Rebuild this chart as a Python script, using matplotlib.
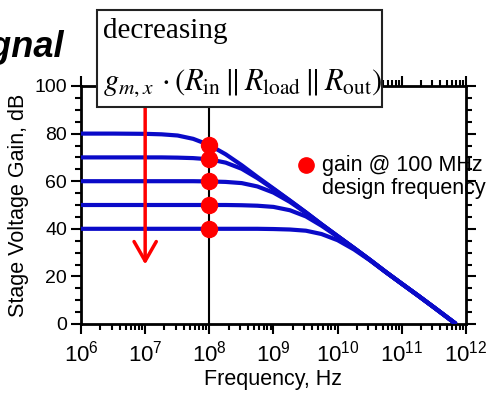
import numpy as np
import matplotlib.pyplot as plt
from matplotlib.patches import Rectangle
from matplotlib.ticker import FixedLocator, FixedFormatter, MultipleLocator, LogLocator, NullFormatter

plt.rcParams['font.family'] = ['Liberation Sans', 'DejaVu Sans']
plt.rcParams['mathtext.fontset'] = 'custom'
plt.rcParams['mathtext.rm'] = 'Liberation Sans'
plt.rcParams['mathtext.it'] = 'Liberation Sans:italic'

# frequency grid (Hz)
freq_hz = [1e6, 3.2e6, 1e7, 1.8e7, 3.2e7, 5.6e7, 1e8, 1.8e8, 3.2e8, 5.6e8, 1e9,
           1.8e9, 3.2e9, 5.6e9, 1e10, 1.8e10, 3.2e10, 5.6e10, 1e11, 1.8e11, 3.2e11, 7e11]

# stage gain curves, dB
gain_80 = [80.0, 80.0, 79.9, 79.7, 79.2, 77.8, 75.2, 71.3, 66.7, 61.8, 56.9,
           51.9, 46.9, 41.9, 36.9, 31.9, 26.9, 21.9, 16.9, 11.9, 6.9, 0.0]
gain_70 = [70.0, 70.0, 70.0, 70.0, 69.9, 69.7, 69.2, 67.8, 65.2, 61.3, 56.7,
           51.8, 46.9, 41.9, 36.9, 31.9, 26.9, 21.9, 16.9, 11.9, 6.9, 0.0]
gain_60 = [60.0, 60.0, 60.0, 60.0, 60.0, 60.0, 59.9, 59.7, 59.2, 57.8, 55.2,
           51.3, 46.7, 41.8, 36.9, 31.9, 26.9, 21.9, 16.9, 11.9, 6.9, 0.0]
gain_50 = [50.0, 50.0, 50.0, 50.0, 50.0, 50.0, 50.0, 50.0, 49.9, 49.7, 49.2,
           47.8, 45.2, 41.3, 36.7, 31.8, 26.9, 21.9, 16.9, 11.9, 6.9, 0.0]
gain_40 = [40.0, 40.0, 40.0, 40.0, 40.0, 40.0, 40.0, 40.0, 40.0, 40.0, 39.9,
           39.7, 39.2, 37.8, 35.2, 31.3, 26.7, 21.8, 16.9, 11.9, 6.9, 0.0]
curves = [gain_80, gain_70, gain_60, gain_50, gain_40]

# gain at 100 MHz design frequency
design_f = 1e8
design_gain = [75.2, 69.2, 59.9, 50.0, 40.0]

x_ticks = [1e6, 1e7, 1e8, 1e9, 1e10, 1e11, 1e12]
x_labels = [r'$\mathregular{10^{6}}$', r'$\mathregular{10^{7}}$', r'$\mathregular{10^{8}}$',
            r'$\mathregular{10^{9}}$', r'$\mathregular{10^{10}}$', r'$\mathregular{10^{11}}$',
            r'$\mathregular{10^{12}}$']
y_ticks = [0, 20, 40, 60, 80, 100]

W, H = 489, 395
fig = plt.figure(figsize=(W / 100, H / 100), dpi=100)
ax = fig.add_axes([81 / W, 1 - 324 / H, 385 / W, 238 / H])

blue = '#0a0ac8'
for g in curves:
    ax.plot(freq_hz, g, color=blue, lw=3, solid_capstyle='butt', zorder=3)

ax.axvline(design_f, color='black', lw=1.5, zorder=2)
ax.plot([design_f] * len(design_gain), design_gain, 'o', color='red', ms=11.5, zorder=4)

# decreasing-gain arrow
ax.annotate('', xy=(1e7, 25), xytext=(1e7, 100),
            arrowprops=dict(arrowstyle='->,head_length=1.4,head_width=0.8', color='red',
                            lw=2.5, shrinkA=0, shrinkB=0), zorder=3)

ax.set_xscale('log')
ax.set_xlim(1e6, 1e12)
ax.set_ylim(0, 100)
ax.xaxis.set_major_locator(FixedLocator(x_ticks))
ax.xaxis.set_major_formatter(FixedFormatter(x_labels))
ax.xaxis.set_minor_locator(LogLocator(base=10, subs=np.arange(2, 10), numticks=20))
ax.xaxis.set_minor_formatter(NullFormatter())
ax.yaxis.set_major_locator(FixedLocator(y_ticks))
ax.yaxis.set_minor_locator(MultipleLocator(5))

for s in ax.spines.values():
    s.set_linewidth(2)
ax.tick_params(which='both', direction='out', top=True, right=True, width=1.5)
ax.tick_params(which='major', length=7)
ax.tick_params(which='minor', length=4)
ax.tick_params(axis='x', labelsize=16, pad=5)
ax.tick_params(axis='y', labelsize=14, pad=3)

ax.set_xlabel('Frequency, Hz', fontsize=15.5, labelpad=2)
ax.set_ylabel('Stage Voltage Gain, dB', fontsize=15.5, labelpad=4)

# legend-like annotation
ax.plot([0.584], [0.668], 'o', color='red', ms=11, transform=ax.transAxes, clip_on=False)
ax.text(0.626, 0.710, 'gain @ 100 MHz\ndesign frequency', transform=ax.transAxes,
        fontsize=15.5, va='top', ha='left', linespacing=1.15)

# cut-off slide title
fig.text(64 / W, 1 - 57 / H, 'Signal', fontsize=26, fontweight='bold', fontstyle='italic',
         ha='right', va='baseline')

# formula box
box = Rectangle((97 / W, 1 - 107 / H), 285 / W, 97 / H, transform=fig.transFigure,
                facecolor='white', edgecolor='#222222', lw=1.5, zorder=5)
fig.add_artist(box)
fig.text(103 / W, 1 - 38 / H, 'decreasing', fontsize=21, family='Liberation Serif',
         ha='left', va='baseline', zorder=6)
fig.text(103 / W, 1 - 90 / H,
         r'$\mathit{g}_{\mathit{m,x}}\,\cdot(\mathit{R}_{\mathrm{in}}\,\|\,'
         r'\mathit{R}_{\mathrm{load}}\,\|\,\mathit{R}_{\mathrm{out}})$',
         fontsize=22, math_fontfamily='stix', ha='left', va='baseline', zorder=6)

fig.savefig('out.png', dpi=100)
